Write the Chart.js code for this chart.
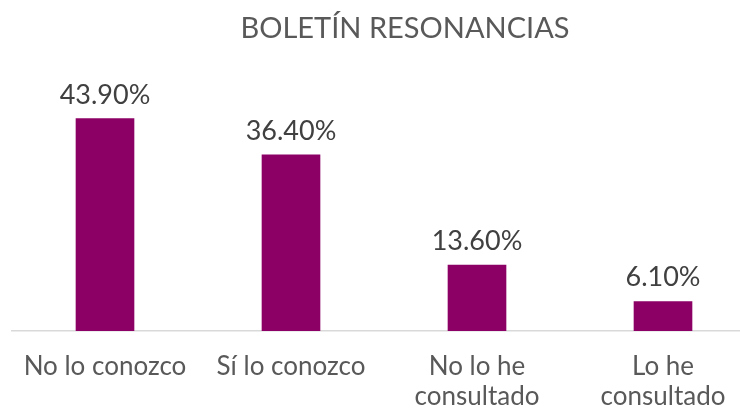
<!DOCTYPE html>
<html>
<head>
<meta charset="utf-8">
<script src="https://cdn.jsdelivr.net/npm/chart.js@4"></script>
<style>
  html, body { margin: 0; padding: 0; background: #fff; overflow: hidden; }
  #wrap { width: 760px; height: 409px; }
</style>
</head>
<body>
<div id="wrap"><canvas id="chart"></canvas></div>
<script>
const chartTitle = 'BOLETÍN RESONANCIAS';
const categories = [
  'No lo conozco',
  'Sí lo conozco',
  ['No lo he', 'consultado'],
  ['Lo he', 'consultado'],
];
const percentages = [43.9, 36.4, 13.6, 6.1];
const valueLabels = ['43.90%', '36.40%', '13.60%', '6.10%'];

const FONT = 'Lato, "Open Sans", sans-serif';

// title plus the value above each bar
const labelsPlugin = {
  id: 'labels',
  afterDatasetsDraw(chart) {
    const ctx = chart.ctx;
    ctx.save();
    ctx.fillStyle = '#595959';
    ctx.font = '29px ' + FONT;
    ctx.textAlign = 'center';
    ctx.textBaseline = 'alphabetic';
    ctx.fillText(chartTitle, 405, 38);

    ctx.fillStyle = '#404040';
    ctx.font = '27px ' + FONT;
    chart.getDatasetMeta(0).data.forEach((bar, i) => {
      ctx.fillText(valueLabels[i], bar.x, bar.y - 15);
    });
    ctx.restore();
  },
};

new Chart(document.getElementById('chart').getContext('2d'), {
  type: 'bar',
  data: {
    labels: categories,
    datasets: [
      {
        data: percentages,
        backgroundColor: '#8c0066',
        barThickness: 58,
      },
    ],
  },
  options: {
    responsive: true,
    maintainAspectRatio: false,
    animation: false,
    layout: {
      padding: { top: 89, left: 12, right: 4, bottom: 0 },
    },
    plugins: {
      legend: { display: false },
      tooltip: { enabled: false },
      title: { display: false },
    },
    scales: {
      x: {
        grid: { display: false },
        border: { display: true, color: '#d9d9d9', width: 1.5 },
        ticks: {
          color: '#595959',
          padding: 13,
          maxRotation: 0,
          autoSkip: false,
          font: { family: FONT, size: 26, lineHeight: 1.15 },
        },
        afterFit(scale) {
          scale.height = 78;
        },
      },
      y: {
        display: false,
        min: 0,
        max: 50,
      },
    },
  },
  plugins: [labelsPlugin],
});
</script>
</body>
</html>
